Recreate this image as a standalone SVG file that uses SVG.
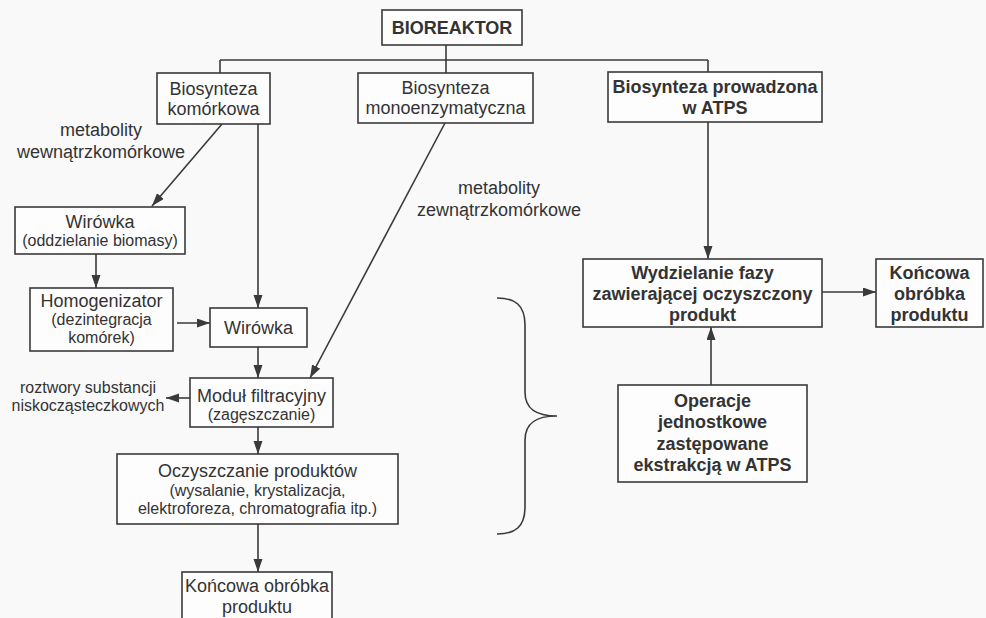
<svg xmlns="http://www.w3.org/2000/svg" width="986" height="618" viewBox="0 0 986 618">
<style>
.box{fill:#fdfdfd;stroke:#3a3a3a;stroke-width:1.6}
.ln{fill:none;stroke:#3a3a3a;stroke-width:1.6}
.t{font-family:"Liberation Sans",Arial,sans-serif;font-size:18px;fill:#333;text-anchor:middle}
.s{font-size:16px}
.b{font-weight:bold}
</style>
<defs>
<marker id="ah" markerUnits="userSpaceOnUse" markerWidth="14" markerHeight="10" refX="13" refY="4.5" orient="auto">
<path d="M0,0 L13,4.5 L0,9 z" fill="#3a3a3a"/>
</marker>
</defs>
<rect width="986" height="618" fill="#f9f9f9"/>
<g id="connectors">
<line class="ln" x1="446" y1="45" x2="446" y2="73"/>
<line class="ln" x1="220" y1="60" x2="708" y2="60"/>
<line class="ln" x1="220" y1="60" x2="220" y2="73"/>
<line class="ln" x1="708" y1="60" x2="708" y2="72"/>
<line class="ln" x1="222" y1="124" x2="152" y2="206" marker-end="url(#ah)"/>
<line class="ln" x1="258" y1="124" x2="258" y2="308" marker-end="url(#ah)"/>
<line class="ln" x1="96" y1="254" x2="96" y2="288" marker-end="url(#ah)"/>
<line class="ln" x1="177" y1="323" x2="210" y2="323" marker-end="url(#ah)"/>
<line class="ln" x1="258" y1="347" x2="258" y2="378" marker-end="url(#ah)"/>
<line class="ln" x1="445" y1="123" x2="310" y2="378" marker-end="url(#ah)"/>
<line class="ln" x1="190" y1="398" x2="166" y2="398" marker-end="url(#ah)"/>
<line class="ln" x1="258" y1="427" x2="258" y2="454" marker-end="url(#ah)"/>
<line class="ln" x1="258" y1="524" x2="258" y2="572" marker-end="url(#ah)"/>
<line class="ln" x1="708" y1="122" x2="708" y2="259" marker-end="url(#ah)"/>
<line class="ln" x1="822" y1="292" x2="876" y2="292" marker-end="url(#ah)"/>
<line class="ln" x1="711" y1="385" x2="711" y2="327" marker-end="url(#ah)"/>
<path class="ln" d="M497,298 C515,298 525,305 525,325 L525,392 C525,409 536,416 557,416 C536,416 525,423 525,440 L525,507 C525,527 515,534 497,534"/>
</g>
<text class="t" x="101" y="136">metabolity</text>
<text class="t" x="101" y="158">wewnątrzkomórkowe</text>
<text class="t" x="499" y="194">metabolity</text>
<text class="t" x="499" y="216">zewnątrzkomórkowe</text>
<text class="t s" x="88" y="393">roztwory substancji</text>
<text class="t s" x="88" y="411">niskocząsteczkowych</text>
<g id="bioreaktor">
<rect class="box" x="382" y="10" width="140" height="35"/>
<text class="t b" x="452" y="34">BIOREAKTOR</text>
</g>
<g id="biosynteza-komorkowa">
<rect class="box" x="157" y="73" width="113" height="51"/>
<text class="t" x="213.5" y="95">Biosynteza</text>
<text class="t" x="213.5" y="115">komórkowa</text>
</g>
<g id="biosynteza-mono">
<rect class="box" x="358" y="73" width="175" height="50"/>
<text class="t" x="445.5" y="94">Biosynteza</text>
<text class="t" x="445.5" y="114">monoenzymatyczna</text>
</g>
<g id="biosynteza-atps">
<rect class="box" x="608" y="72" width="214" height="50"/>
<text class="t b" x="715" y="93">Biosynteza prowadzona</text>
<text class="t b" x="715" y="114">w ATPS</text>
</g>
<g id="wirowka1">
<rect class="box" x="15" y="207" width="170" height="47"/>
<text class="t" x="100" y="228">Wirówka</text>
<text class="t s" x="100" y="246">(oddzielanie biomasy)</text>
</g>
<g id="homogenizator">
<rect class="box" x="30" y="288" width="143" height="63"/>
<text class="t" x="101.5" y="307">Homogenizator</text>
<text class="t s" x="101.5" y="325">(dezintegracja</text>
<text class="t s" x="101.5" y="343">komórek)</text>
</g>
<g id="wirowka2">
<rect class="box" x="210" y="308" width="97" height="39"/>
<text class="t" x="258.5" y="334">Wirówka</text>
</g>
<g id="modul">
<rect class="box" x="190" y="378" width="143" height="49"/>
<text class="t" x="261.5" y="402">Moduł filtracyjny</text>
<text class="t s" x="261.5" y="420">(zagęszczanie)</text>
</g>
<g id="oczyszczanie">
<rect class="box" x="117" y="454" width="281" height="70"/>
<text class="t" x="257.5" y="477">Oczyszczanie produktów</text>
<text class="t s" x="257.5" y="496">(wysalanie, krystalizacja,</text>
<text class="t s" x="257.5" y="514">elektroforeza, chromatografia itp.)</text>
</g>
<g id="koncowa1">
<rect class="box" x="182" y="572" width="150" height="52"/>
<text class="t" x="257" y="592">Końcowa obróbka</text>
<text class="t" x="257" y="613">produktu</text>
</g>
<g id="wydzielanie">
<rect class="box" x="583" y="259" width="239" height="68"/>
<text class="t b" x="702.5" y="279">Wydzielanie fazy</text>
<text class="t b" x="702.5" y="300">zawierającej oczyszczony</text>
<text class="t b" x="702.5" y="321">produkt</text>
</g>
<g id="koncowa2">
<rect class="box" x="876" y="259" width="107" height="68"/>
<text class="t b" x="929.5" y="279">Końcowa</text>
<text class="t b" x="929.5" y="300">obróbka</text>
<text class="t b" x="929.5" y="321">produktu</text>
</g>
<g id="operacje">
<rect class="box" x="618" y="385" width="189" height="97"/>
<text class="t b" x="712.5" y="407">Operacje</text>
<text class="t b" x="712.5" y="428">jednostkowe</text>
<text class="t b" x="712.5" y="450">zastępowane</text>
<text class="t b" x="712.5" y="471">ekstrakcją w ATPS</text>
</g>
</svg>
